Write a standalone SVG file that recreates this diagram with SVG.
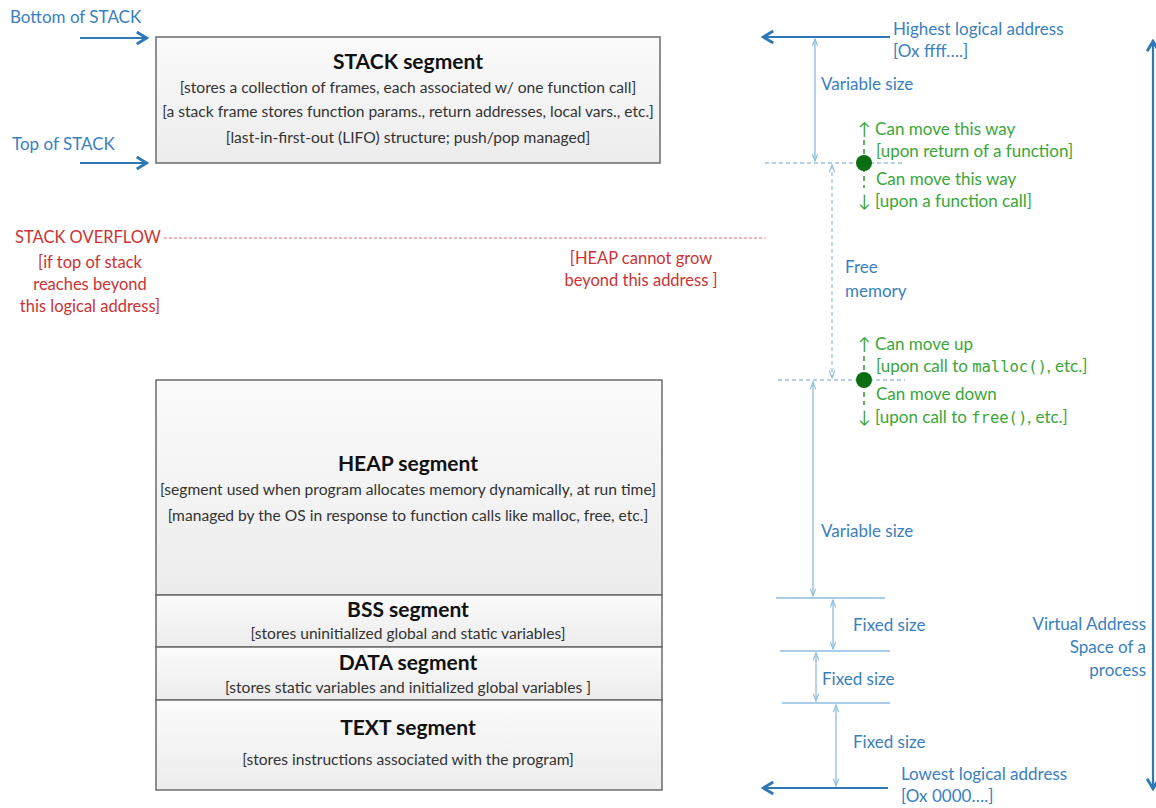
<svg xmlns="http://www.w3.org/2000/svg" width="1156" height="808" viewBox="0 0 1156 808">
  <style>
    text { font-family: Lato, "Open Sans", "Liberation Sans", sans-serif; }
    .seg { fill: url(#segFill); stroke: #6b6b6b; stroke-width: 1.5; }
    .title { font-size: 21px; font-weight: bold; fill: #111; text-anchor: middle; }
    .desc { font-size: 15.6px; fill: #333; text-anchor: middle; }
    .blue { fill: #3a80bf; font-size: 17px; }
    .green { fill: #3aa63a; font-size: 17px; }
    .red { fill: #cc3333; font-size: 16.5px; }
    .mono { font-family: "DejaVu Sans Mono", "Liberation Mono", monospace; font-size: 15.5px; }
    .ptr { stroke: #2f77b5; stroke-width: 2.2; fill: none; }
    .dim { stroke: #8dbde0; stroke-width: 1.3; fill: none; }
    .tick { stroke: #8dbde0; stroke-width: 1.5; fill: none; }
    .dash { stroke: #9cc2e0; stroke-width: 1.3; stroke-dasharray: 4 3; fill: none; }
    .gdash { stroke: #2e9a2e; stroke-width: 1.5; stroke-dasharray: 5 4; fill: none; }
    .rdash { stroke: #e07070; stroke-width: 1.2; stroke-dasharray: 3 2; fill: none; }
  </style>
  <defs>
    <linearGradient id="segFill" x1="0" y1="0" x2="0" y2="1">
      <stop offset="0" stop-color="#fbfbfb"/>
      <stop offset="1" stop-color="#ececec"/>
    </linearGradient>
    <marker id="ptrHead" viewBox="0 0 10 10" refX="8" refY="5" markerWidth="6" markerHeight="6" orient="auto-start-reverse">
      <path d="M1,0.5 L8.5,5 L1,9.5" fill="none" stroke="#2f77b5" stroke-width="2.2"/>
    </marker>
    <marker id="dimHead" viewBox="0 0 10 10" refX="9" refY="5" markerWidth="7" markerHeight="7" orient="auto-start-reverse">
      <path d="M1,2 L9,5 L1,8" fill="none" stroke="#8dbde0" stroke-width="1.2"/>
    </marker>
  </defs>

  <!-- memory segments -->
  <g id="stack">
    <rect class="seg" x="156" y="37" width="504" height="126"/>
    <text class="title" x="408" y="69">STACK segment</text>
    <text class="desc" x="408" y="93">[stores a collection of frames, each associated w/ one function call]</text>
    <text class="desc" x="408" y="117">[a stack frame stores function params., return addresses, local vars., etc.]</text>
    <text class="desc" x="408" y="143">[last-in-first-out (LIFO) structure; push/pop managed]</text>
  </g>
  <g id="heap">
    <rect class="seg" x="156" y="380" width="506" height="215"/>
    <text class="title" x="408" y="471">HEAP segment</text>
    <text class="desc" x="408" y="495">[segment used when program allocates memory dynamically, at run time]</text>
    <text class="desc" x="408" y="521">[managed by the OS in response to function calls like malloc, free, etc.]</text>
  </g>
  <g id="bss">
    <rect class="seg" x="156" y="595" width="506" height="52"/>
    <text class="title" x="408" y="617">BSS segment</text>
    <text class="desc" x="408" y="639">[stores uninitialized global and static variables]</text>
  </g>
  <g id="data">
    <rect class="seg" x="156" y="647" width="506" height="53"/>
    <text class="title" x="408" y="670">DATA segment</text>
    <text class="desc" x="408" y="693">[stores static variables and initialized global variables ]</text>
  </g>
  <g id="text-seg">
    <rect class="seg" x="156" y="700" width="506" height="90"/>
    <text class="title" x="408" y="735">TEXT segment</text>
    <text class="desc" x="408" y="765">[stores instructions associated with the program]</text>
  </g>

  <!-- pointers, dimension lines and boundaries -->
  <g id="connectors">
    <line class="ptr" x1="80" y1="38" x2="146" y2="38" marker-end="url(#ptrHead)"/>
    <line class="ptr" x1="80" y1="163" x2="146" y2="163" marker-end="url(#ptrHead)"/>
    <line class="ptr" x1="890" y1="37" x2="764" y2="37" marker-end="url(#ptrHead)"/>
    <line class="ptr" x1="888" y1="788" x2="764" y2="788" marker-end="url(#ptrHead)"/>
    <line class="ptr" x1="1153" y1="42" x2="1153" y2="788" marker-start="url(#ptrHead)" marker-end="url(#ptrHead)" stroke-width="2"/>

    <!-- stack variable size -->
    <line class="dim" x1="815" y1="39" x2="815" y2="161" marker-start="url(#dimHead)" marker-end="url(#dimHead)"/>
    <line class="dash" x1="765" y1="163" x2="905" y2="163"/>
    <!-- free memory -->
    <line class="dash" x1="832" y1="165" x2="832" y2="378" marker-start="url(#dimHead)" marker-end="url(#dimHead)"/>
    <line class="dash" x1="778" y1="380" x2="905" y2="380"/>
    <!-- heap variable size -->
    <line class="dim" x1="813" y1="382" x2="813" y2="596" marker-start="url(#dimHead)" marker-end="url(#dimHead)"/>
    <line class="tick" x1="776" y1="598" x2="885" y2="598"/>
    <line class="dim" x1="833" y1="600" x2="833" y2="649" marker-start="url(#dimHead)" marker-end="url(#dimHead)"/>
    <line class="tick" x1="780" y1="651" x2="890" y2="651"/>
    <line class="dim" x1="816" y1="653" x2="816" y2="701" marker-start="url(#dimHead)" marker-end="url(#dimHead)"/>
    <line class="tick" x1="782" y1="703" x2="890" y2="703"/>
    <line class="dim" x1="836" y1="705" x2="836" y2="786" marker-start="url(#dimHead)" marker-end="url(#dimHead)"/>

    <!-- overflow limit -->
    <line class="rdash" x1="164" y1="238" x2="765" y2="238"/>

    <!-- movable boundaries -->
    <line class="gdash" x1="864" y1="140" x2="864" y2="188"/>
    <circle cx="864" cy="163" r="8" fill="#0b6e12"/>
    <line class="gdash" x1="864" y1="356" x2="864" y2="405"/>
    <circle cx="864" cy="380" r="8" fill="#0b6e12"/>
  </g>

  <!-- annotations -->
  <g id="labels">
    <text class="blue" x="10" y="23">Bottom of STACK</text>
    <text class="blue" x="12" y="150">Top of STACK</text>
    <text class="blue" x="893" y="35">Highest logical address</text>
    <text class="blue" x="893" y="57">[Ox ffff….]</text>
    <text class="blue" x="821" y="90">Variable size</text>
    <text class="blue" x="845" y="273">Free</text>
    <text class="blue" x="845" y="297">memory</text>
    <text class="blue" x="821" y="537">Variable size</text>
    <text class="blue" x="853" y="631">Fixed size</text>
    <text class="blue" x="822" y="685">Fixed size</text>
    <text class="blue" x="853" y="748">Fixed size</text>
    <text class="blue" x="901" y="780">Lowest logical address</text>
    <text class="blue" x="901" y="802">[Ox 0000….]</text>
    <text class="blue" x="1146" y="630" text-anchor="end">Virtual Address</text>
    <text class="blue" x="1146" y="653" text-anchor="end">Space of a</text>
    <text class="blue" x="1146" y="676" text-anchor="end">process</text>

    <text class="green" x="858" y="135">↑ Can move this way</text>
    <text class="green" x="876" y="157">[upon return of a function]</text>
    <text class="green" x="876" y="185">Can move this way</text>
    <text class="green" x="858" y="207">↓ [upon a function call]</text>
    <text class="green" x="858" y="350">↑ Can move up</text>
    <text class="green" x="876" y="372">[upon call to <tspan class="mono">malloc()</tspan>, etc.]</text>
    <text class="green" x="876" y="400">Can move down</text>
    <text class="green" x="858" y="423">↓ [upon call to <tspan class="mono">free()</tspan>, etc.]</text>

    <text class="red" x="15" y="243">STACK OVERFLOW</text>
    <text class="red" x="90" y="268" text-anchor="middle">[if top of stack</text>
    <text class="red" x="90" y="290" text-anchor="middle">reaches beyond</text>
    <text class="red" x="90" y="312" text-anchor="middle">this logical address]</text>
    <text class="red" x="641" y="264" text-anchor="middle">[HEAP cannot grow</text>
    <text class="red" x="641" y="286" text-anchor="middle">beyond this address ]</text>
  </g>
</svg>
